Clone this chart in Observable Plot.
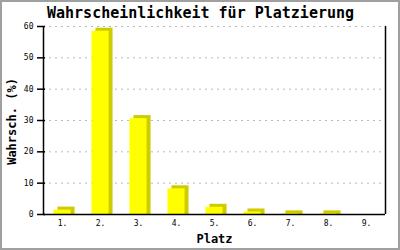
<!DOCTYPE html>
<html>
<head>
<meta charset="utf-8">
<script src="https://cdn.jsdelivr.net/npm/d3@7"></script>
<script src="https://cdn.jsdelivr.net/npm/@observablehq/plot@0.6"></script>
<style>
  html, body { margin: 0; padding: 0; background: #fff; }
  #wrap { position: relative; width: 400px; height: 250px; overflow: hidden; }
  #border { position: absolute; left: 0; top: 0; width: 400px; height: 250px; box-sizing: border-box; border: 2px solid #a0a0a0; pointer-events: none; }
</style>
</head>
<body>
<div id="wrap"><div id="border"></div></div>
<script>
const places = [1, 2, 3, 4, 5, 6, 7, 8, 9];
const placeLabels = ["1.", "2.", "3.", "4.", "5.", "6.", "7.", "8.", "9."];
const probs = [1.4, 58.5, 30.6, 8.2, 2.3, 0.8, 0.2, 0.2, 0];
const yTicks = [0, 10, 20, 30, 40, 50, 60];
const title = "Wahrscheinlichkeit für Platzierung";
const xLabel = "Platz";
const yLabel = "Wahrsch. (%)";

const data = places.map((p, i) => ({p, label: placeLabels[i], v: probs[i]}));
const nonZero = data.filter(d => d.v > 0);
const half = 0.225;
const font = "'DejaVu Sans Mono', 'Liberation Mono', monospace";

const chart = Plot.plot({
  width: 400,
  height: 250,
  marginLeft: 43,
  marginRight: 15,
  marginTop: 26,
  marginBottom: 36,
  style: {fontFamily: font, background: "transparent", overflow: "visible"},
  x: {domain: [0.5, 9.5]},
  y: {domain: [0, 60]},
  marks: [
    Plot.gridY(yTicks.filter(t => t > 0), {stroke: "#b8b8b8", strokeOpacity: 1, strokeDasharray: "2,4"}),
    Plot.rectY(nonZero, {x1: d => d.p - half, x2: d => d.p + half, y: "v", fill: "#cccc00", dx: 4, dy: -3, insetBottom: -3}),
    Plot.rectY(nonZero, {x1: d => d.p - half, x2: d => d.p + half, y: "v", fill: "#ffff00"}),
    Plot.ruleY([0], {stroke: "black", strokeWidth: 1.5}),
    Plot.ruleX([0.5], {stroke: "black", strokeWidth: 1.5}),
    Plot.ruleX([9.5], {stroke: "black", strokeWidth: 1.5}),
    Plot.axisY({ticks: yTicks, tickSize: 6, tickPadding: 4, fontSize: 8, label: null, stroke: "black", strokeWidth: 1.5, fill: "black"}),
    Plot.ruleY(yTicks, {y: d => d, x1: () => 0.5, x2: () => 0.555, stroke: "black", strokeWidth: 1.5}),
    Plot.axisX({ticks: places, tickFormat: d => placeLabels[places.indexOf(d)], tickSize: 0, tickPadding: 6, fontSize: 8, label: null, fill: "black"}),
    Plot.text([title], {frameAnchor: "top", dx: -14, dy: -13, fontSize: 15, fontWeight: "bold", fill: "black", lineAnchor: "middle", textAnchor: "middle"}),
    Plot.text([xLabel], {frameAnchor: "bottom", dy: 24.5, fontSize: 12, fontWeight: "bold", fill: "black", lineAnchor: "middle", textAnchor: "middle"}),
    Plot.text([yLabel], {frameAnchor: "left", dx: -31, dy: 1, rotate: -90, fontSize: 12, fontWeight: "bold", fill: "black", lineAnchor: "middle", textAnchor: "middle"})
  ]
});
document.getElementById("wrap").insertBefore(chart, document.getElementById("border"));
</script>
</body>
</html>
